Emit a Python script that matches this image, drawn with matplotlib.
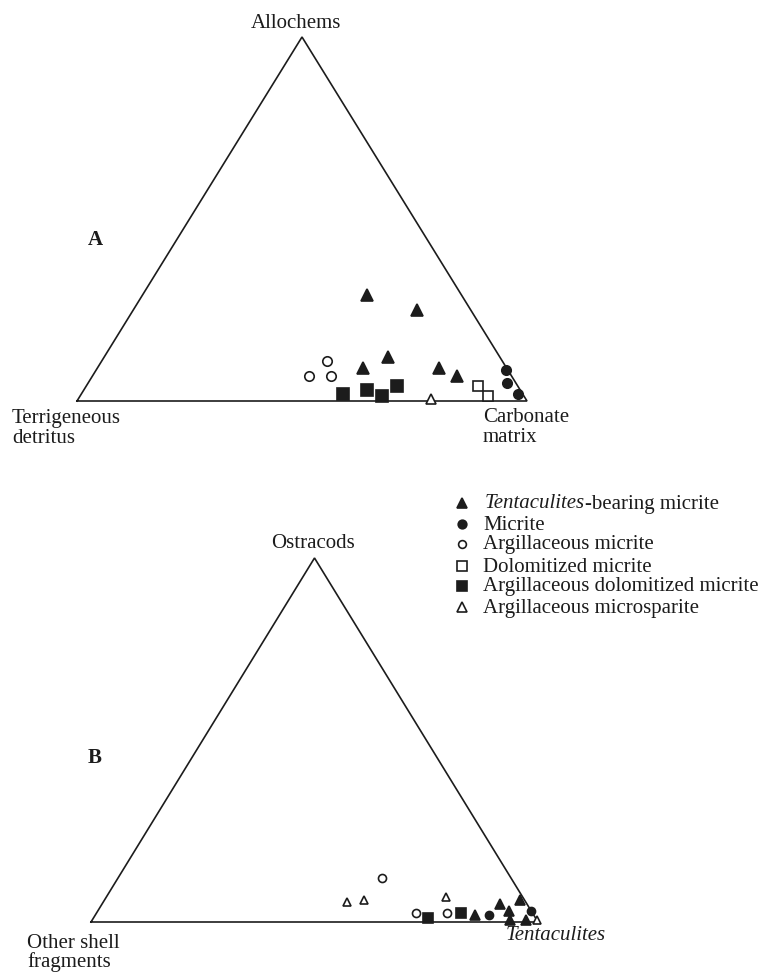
import matplotlib.pyplot as plt

plt.rcParams['font.family'] = ['Liberation Serif', 'DejaVu Serif']

W, H = 766, 974

# compositions in percent, (top, left, right)
# A: Allochems / Terrigeneous detritus / Carbonate matrix
a_tentaculites = [(29, 21, 50), (25, 12, 63), (12, 25, 63), (9, 32, 59), (9, 15, 76), (7, 12, 81)]
a_micrite = [(8.5, 0.5, 91), (5, 2, 93), (2, 1, 97)]
a_arg_micrite = [(11, 39, 50), (7, 45, 48), (7, 40, 53)]
a_dol_micrite = [(4, 9, 87), (1.5, 8, 90.5)]
a_arg_dol_micrite = [(2, 40, 58), (3, 34, 63), (1.5, 31.5, 67), (4, 27, 69)]
a_arg_microsparite = [(0.5, 21, 78.5)]

# B: Ostracods / Other shell fragments / Tentaculites
b_tentaculites = [(2, 13, 85), (5, 6, 89), (3, 5, 92), (6, 1, 93), (0.5, 6, 93.5), (0.5, 2.5, 97)]
b_micrite = [(2, 10, 88), (3, 0, 97)]
b_arg_micrite = [(12, 29, 59), (2.5, 26, 71.5), (2.5, 19, 78.5)]
b_dol_micrite = []
b_arg_dol_micrite = [(1, 24, 75), (2.5, 16, 81.5)]
b_arg_microsparite = [(5.5, 40, 54.5), (6, 36, 58), (7, 17, 76), (0.5, 0, 99.5)]

legend_labels = ['Tentaculites', 'Micrite', 'Argillaceous micrite', 'Dolomitized micrite',
                 'Argillaceous dolomitized micrite', 'Argillaceous microsparite']
markers = ['^', 'o', 'o', 's', 's', '^']
filled = [True, True, False, False, True, False]
sizes = [8.5, 6.8, 6.8, 7.4, 8.5, 7.6]

INK = '#1c1c1c'


def to_xy(points):
    """Ternary (top, left, right) -> triangle coords with apex at (0.5, 1)."""
    xs = [r / 100 + t / 200 for t, l, r in points]
    ys = [t / 100 for t, l, r in points]
    return xs, ys


def px(x, y):
    return x / W, 1 - y / H


def draw_triangle(ax, groups, scale):
    ax.set_xlim(0, 1)
    ax.set_ylim(0, 1)
    ax.axis('off')
    ax.plot([0, 1, 0.5, 0], [0, 0, 1, 0], color=INK, lw=1.2, clip_on=False,
            solid_joinstyle='miter')
    for pts, m, f, s in zip(groups, markers, filled, sizes):
        if not pts:
            continue
        xs, ys = to_xy(pts)
        ax.plot(xs, ys, linestyle='none', marker=m, markersize=s * scale,
                markerfacecolor=INK if f else 'white', markeredgecolor=INK,
                markeredgewidth=1.2, clip_on=False, zorder=3)


fig = plt.figure(figsize=(W / 100, H / 100), dpi=100)

ax_a = fig.add_axes([77 / W, 1 - 401 / H, 450 / W, 364 / H])
draw_triangle(ax_a, [a_tentaculites, a_micrite, a_arg_micrite, a_dol_micrite,
                     a_arg_dol_micrite, a_arg_microsparite], 1.0)

ax_b = fig.add_axes([91 / W, 1 - 922 / H, 447 / W, 364 / H])
draw_triangle(ax_b, [b_tentaculites, b_micrite, b_arg_micrite, b_dol_micrite,
                     b_arg_dol_micrite, b_arg_microsparite], 0.85)

fs = 15
txt = dict(fontsize=fs, color=INK)

fig.text(*px(296, 24), 'Allochems', ha='center', va='center', **txt)
fig.text(*px(88, 240), 'A', ha='left', va='center', fontweight='bold', **txt)
fig.text(*px(12, 419), 'Terrigeneous', ha='left', va='center', **txt)
fig.text(*px(12, 438), 'detritus', ha='left', va='center', **txt)
fig.text(*px(483, 418), 'Carbonate', ha='left', va='center', **txt)
fig.text(*px(483, 437), 'matrix', ha='left', va='center', **txt)

fig.text(*px(313, 544), 'Ostracods', ha='center', va='center', **txt)
fig.text(*px(88, 758), 'B', ha='left', va='center', fontweight='bold', **txt)
fig.text(*px(27, 944), 'Other shell', ha='left', va='center', **txt)
fig.text(*px(27, 962), 'fragments', ha='left', va='center', **txt)
fig.text(*px(506, 936), 'Tentaculites', ha='left', va='center', style='italic', **txt)

# legend
legend_y = [503, 524, 544, 566, 586, 607]
legend_sizes = [7.5, 6.2, 5.6, 7.0, 7.0, 6.6]
for i, (label, y) in enumerate(zip(legend_labels, legend_y)):
    fig.add_artist(plt.Line2D([462 / W], [1 - y / H], linestyle='none', marker=markers[i],
                              markersize=legend_sizes[i],
                              markerfacecolor=INK if filled[i] else 'white',
                              markeredgecolor=INK, markeredgewidth=1.2))
    if i == 0:
        t1 = fig.text(*px(485, y + 1), label, ha='left', va='center', style='italic', **txt)
        fig.add_artist(plt.Annotation('-bearing micrite', xy=(1, 0), xycoords=t1,
                                      ha='left', va='bottom', **txt))
    else:
        fig.text(*px(483, y + 1), label, ha='left', va='center', **txt)

fig.savefig('out.png', dpi=100)
